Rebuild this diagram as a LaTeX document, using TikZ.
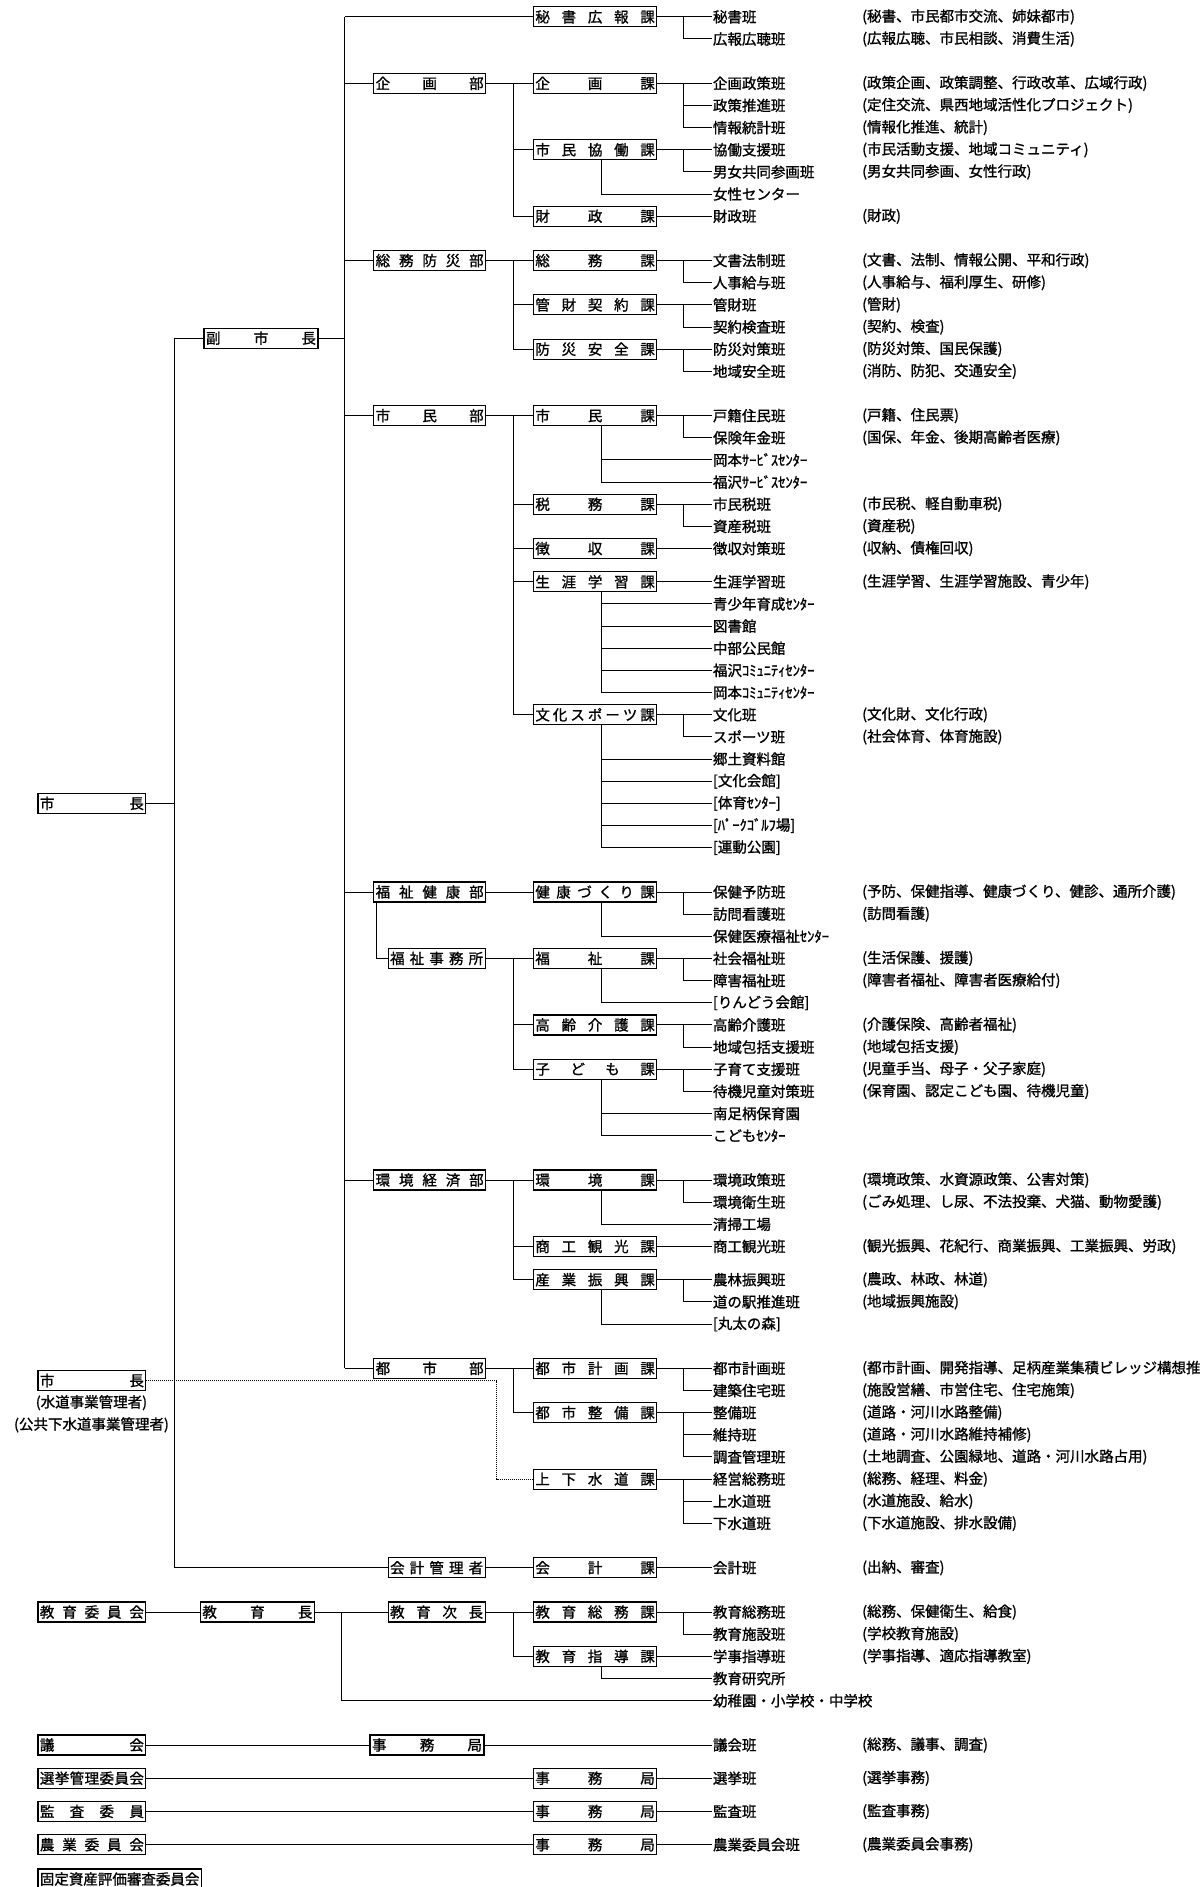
\documentclass[tikz,border=0pt]{standalone}
\usepackage{fontspec}
\setmainfont{Noto Sans CJK JP}[FakeBold=1.2]

\tikzset{
  unitbox/.style={draw, line width=1.2pt, anchor=west, minimum height=20pt,
    inner xsep=2pt, inner ysep=0pt},
  headbox/.style={unitbox, text width=104pt},
  vicebox/.style={unitbox, text width=110pt},
  bubox/.style={unitbox, text width=108pt},
  subbox/.style={unitbox, text width=93pt},
  kabox/.style={unitbox, text width=119.5pt},
  teamtext/.style={anchor=west, inner sep=0pt},
}

% team name plus its duties in brackets
\newcommand{\team}[4]{%
  \node[teamtext] (#1) at (\xt,#2) {#3};
  \node[teamtext] (#1n) at (\xn,#2) {#4};}

\begin{document}
\begin{tikzpicture}[x=1.2036pt, y=-22.158pt, line width=1pt,
  font=\fontsize{14.5pt}{17pt}\selectfont]

  \useasboundingbox (0,-0.76) rectangle (997,84.41);

  \def\xk{442.7}
  \def\xt{592}
  \def\xn{716}

  % x of the vertical bus lines
  \coordinate (busA) at (145.4,0);
  \coordinate (busB) at (286.6,0);
  \coordinate (busH) at (284,0);
  \coordinate (busW) at (412.7,0);
  \coordinate (busC) at (426.5,0);
  \coordinate (busD) at (500,0);
  \coordinate (busE) at (567.7,0);

  % Mayor and deputy
  \node[headbox] (mayor) at (31,35.5) {市\hfill 長};
  \node[vicebox] (deputy) at (169,14.5) {副\hfill 市\hfill 長};

  % Secretary
  \node[kabox] (hisho) at (\xk,0) {秘\hfill 書\hfill 広\hfill 報\hfill 課};
  \team{hisho1}{0}{秘書班}{(秘書、市民都市交流、姉妹都市)}
  \team{hisho2}{1}{広報広聴班}{(広報広聴、市民相談、消費生活)}
  \draw (hisho) -- (hisho1) (hisho1 -| busE) |- (hisho2);

  % Planning
  \node[bubox] (kikakubu) at (310,3) {企\hfill 画\hfill 部};
  \node[kabox] (kikaku) at (\xk,3) {企\hfill 画\hfill 課};
  \node[kabox] (kyodo) at (\xk,6) {市\hfill 民\hfill 協\hfill 働\hfill 課};
  \node[kabox] (zaisei) at (\xk,9) {財\hfill 政\hfill 課};
  \team{kikaku1}{3}{企画政策班}{(政策企画、政策調整、行政改革、広域行政)}
  \team{kikaku2}{4}{政策推進班}{(定住交流、県西地域活性化プロジェクト)}
  \team{kikaku3}{5}{情報統計班}{(情報化推進、統計)}
  \team{kyodo1}{6}{協働支援班}{(市民活動支援、地域コミュニティ)}
  \team{kyodo2}{7}{男女共同参画班}{(男女共同参画、女性行政)}
  \node[teamtext] (josei) at (\xt,8) {女性センター};
  \team{zaisei1}{9}{財政班}{(財政)}
  \draw (kikakubu) -- (kikaku) (kikaku -| busC) |- (zaisei) (busC |- kyodo) -- (kyodo);
  \draw (kikaku) -- (kikaku1) (kikaku1 -| busE) |- (kikaku3) (busE |- kikaku2) -- (kikaku2);
  \draw (kyodo) -- (kyodo1) (kyodo1 -| busE) |- (kyodo2);
  \draw (kyodo.south -| busD) |- (josei);
  \draw (zaisei) -- (zaisei1);

  % General affairs
  \node[bubox] (somubu) at (310,11) {総\hfill 務\hfill 防\hfill 災\hfill 部};
  \node[kabox] (somu) at (\xk,11) {総\hfill 務\hfill 課};
  \node[kabox] (kanzai) at (\xk,13) {管\hfill 財\hfill 契\hfill 約\hfill 課};
  \node[kabox] (bosai) at (\xk,15) {防\hfill 災\hfill 安\hfill 全\hfill 課};
  \team{somu1}{11}{文書法制班}{(文書、法制、情報公開、平和行政)}
  \team{somu2}{12}{人事給与班}{(人事給与、福利厚生、研修)}
  \team{kanzai1}{13}{管財班}{(管財)}
  \team{kanzai2}{14}{契約検査班}{(契約、検査)}
  \team{bosai1}{15}{防災対策班}{(防災対策、国民保護)}
  \team{bosai2}{16}{地域安全班}{(消防、防犯、交通安全)}
  \draw (somubu) -- (somu) (somu -| busC) |- (bosai) (busC |- kanzai) -- (kanzai);
  \draw (somu) -- (somu1) (somu1 -| busE) |- (somu2);
  \draw (kanzai) -- (kanzai1) (kanzai1 -| busE) |- (kanzai2);
  \draw (bosai) -- (bosai1) (bosai1 -| busE) |- (bosai2);

  % Citizens
  \node[bubox] (shiminbu) at (310,18) {市\hfill 民\hfill 部};
  \node[kabox] (shimin) at (\xk,18) {市\hfill 民\hfill 課};
  \node[kabox] (zeimu) at (\xk,22) {税\hfill 務\hfill 課};
  \node[kabox] (choshu) at (\xk,24) {徴\hfill 収\hfill 課};
  \node[kabox] (shogai) at (\xk,25.5) {生\hfill 涯\hfill 学\hfill 習\hfill 課};
  \node[kabox] (bunka) at (\xk,31.5) {文\hfill 化\hfill ス\hfill ポ\hfill ー\hfill ツ\hfill 課};
  \team{shimin1}{18}{戸籍住民班}{(戸籍、住民票)}
  \team{shimin2}{19}{保険年金班}{(国保、年金、後期高齢者医療)}
  \node[teamtext] (okasc) at (\xt,20) {岡本ｻｰﾋﾞｽｾﾝﾀｰ};
  \node[teamtext] (fukusc) at (\xt,21) {福沢ｻｰﾋﾞｽｾﾝﾀｰ};
  \team{zeimu1}{22}{市民税班}{(市民税、軽自動車税)}
  \team{zeimu2}{23}{資産税班}{(資産税)}
  \team{choshu1}{24}{徴収対策班}{(収納、債権回収)}
  \team{shogai1}{25.5}{生涯学習班}{(生涯学習、生涯学習施設、青少年)}
  \node[teamtext] (seishonen) at (\xt,26.5) {青少年育成ｾﾝﾀｰ};
  \node[teamtext] (tosho) at (\xt,27.5) {図書館};
  \node[teamtext] (chubu) at (\xt,28.5) {中部公民館};
  \node[teamtext] (fukucc) at (\xt,29.5) {福沢ｺﾐｭﾆﾃｨｾﾝﾀｰ};
  \node[teamtext] (okacc) at (\xt,30.5) {岡本ｺﾐｭﾆﾃｨｾﾝﾀｰ};
  \team{bunka1}{31.5}{文化班}{(文化財、文化行政)}
  \team{bunka2}{32.5}{スポーツ班}{(社会体育、体育施設)}
  \node[teamtext] (kyodokan) at (\xt,33.5) {郷土資料館};
  \node[teamtext] (bunkakaikan) at (\xt,34.5) {[文化会館]};
  \node[teamtext] (taiiku) at (\xt,35.5) {[体育ｾﾝﾀｰ]};
  \node[teamtext] (golf) at (\xt,36.5) {[ﾊﾟｰｸｺﾞﾙﾌ場]};
  \node[teamtext] (undo) at (\xt,37.5) {[運動公園]};
  \draw (shiminbu) -- (shimin) (shimin -| busC) |- (bunka) (busC |- zeimu) -- (zeimu)
    (busC |- choshu) -- (choshu) (busC |- shogai) -- (shogai);
  \draw (shimin) -- (shimin1) (shimin1 -| busE) |- (shimin2);
  \draw (shimin.south -| busD) |- (fukusc) (busD |- okasc) -- (okasc);
  \draw (zeimu) -- (zeimu1) (zeimu1 -| busE) |- (zeimu2);
  \draw (choshu) -- (choshu1);
  \draw (shogai) -- (shogai1);
  \draw (shogai.south -| busD) |- (okacc) (busD |- seishonen) -- (seishonen)
    (busD |- tosho) -- (tosho) (busD |- chubu) -- (chubu) (busD |- fukucc) -- (fukucc);
  \draw (bunka) -- (bunka1) (bunka1 -| busE) |- (bunka2);
  \draw (bunka.south -| busD) |- (undo) (busD |- kyodokan) -- (kyodokan)
    (busD |- bunkakaikan) -- (bunkakaikan) (busD |- taiiku) -- (taiiku) (busD |- golf) -- (golf);

  % Welfare and health
  \node[bubox] (fukushibu) at (310,39.5) {福\hfill 祉\hfill 健\hfill 康\hfill 部};
  \node[subbox] (jimusho) at (322,42.5) {福\hfill 祉\hfill 事\hfill 務\hfill 所};
  \node[kabox] (kenko) at (\xk,39.5) {健\hfill 康\hfill づ\hfill く\hfill り\hfill 課};
  \node[kabox] (fukushi) at (\xk,42.5) {福\hfill 祉\hfill 課};
  \node[kabox] (korei) at (\xk,45.5) {高\hfill 齢\hfill 介\hfill 護\hfill 課};
  \node[kabox] (kodomo) at (\xk,47.5) {子\hfill ど\hfill も\hfill 課};
  \team{kenko1}{39.5}{保健予防班}{(予防、保健指導、健康づくり、健診、通所介護)}
  \team{kenko2}{40.5}{訪問看護班}{(訪問看護)}
  \node[teamtext] (hokeniryo) at (\xt,41.5) {保健医療福祉ｾﾝﾀｰ};
  \team{fukushi1}{42.5}{社会福祉班}{(生活保護、援護)}
  \team{fukushi2}{43.5}{障害福祉班}{(障害者福祉、障害者医療給付)}
  \node[teamtext] (rindo) at (\xt,44.5) {[りんどう会館]};
  \team{korei1}{45.5}{高齢介護班}{(介護保険、高齢者福祉)}
  \team{korei2}{46.5}{地域包括支援班}{(地域包括支援)}
  \team{kodomo1}{47.5}{子育て支援班}{(児童手当、母子・父子家庭)}
  \team{kodomo2}{48.5}{待機児童対策班}{(保育園、認定こども園、待機児童)}
  \node[teamtext] (hoikuen) at (\xt,49.5) {南足柄保育園};
  \node[teamtext] (kodomoc) at (\xt,50.5) {こどもｾﾝﾀｰ};
  \draw (fukushibu) -- (kenko);
  \draw ([xshift=3pt]fukushibu.south west) |- (jimusho);
  \draw (jimusho) -- (fukushi) (fukushi -| busC) |- (kodomo) (busC |- korei) -- (korei);
  \draw (kenko) -- (kenko1) (kenko1 -| busE) |- (kenko2);
  \draw (kenko.south -| busD) |- (hokeniryo);
  \draw (fukushi) -- (fukushi1) (fukushi1 -| busE) |- (fukushi2);
  \draw (fukushi.south -| busD) |- (rindo);
  \draw (korei) -- (korei1) (korei1 -| busE) |- (korei2);
  \draw (kodomo) -- (kodomo1) (kodomo1 -| busE) |- (kodomo2);
  \draw (kodomo.south -| busD) |- (kodomoc) (busD |- hoikuen) -- (hoikuen);

  % Environment and economy
  \node[bubox] (kankyobu) at (310,52.5) {環\hfill 境\hfill 経\hfill 済\hfill 部};
  \node[kabox] (kankyo) at (\xk,52.5) {環\hfill 境\hfill 課};
  \node[kabox] (shoko) at (\xk,55.5) {商\hfill 工\hfill 観\hfill 光\hfill 課};
  \node[kabox] (sangyo) at (\xk,57) {産\hfill 業\hfill 振\hfill 興\hfill 課};
  \team{kankyo1}{52.5}{環境政策班}{(環境政策、水資源政策、公害対策)}
  \team{kankyo2}{53.5}{環境衛生班}{(ごみ処理、し尿、不法投棄、犬猫、動物愛護)}
  \node[teamtext] (seiso) at (\xt,54.5) {清掃工場};
  \team{shoko1}{55.5}{商工観光班}{(観光振興、花紀行、商業振興、工業振興、労政)}
  \team{sangyo1}{57}{農林振興班}{(農政、林政、林道)}
  \team{sangyo2}{58}{道の駅推進班}{(地域振興施設)}
  \node[teamtext] (maruta) at (\xt,59) {[丸太の森]};
  \draw (kankyobu) -- (kankyo) (kankyo -| busC) |- (sangyo) (busC |- shoko) -- (shoko);
  \draw (kankyo) -- (kankyo1) (kankyo1 -| busE) |- (kankyo2);
  \draw (kankyo.south -| busD) |- (seiso);
  \draw (shoko) -- (shoko1);
  \draw (sangyo) -- (sangyo1) (sangyo1 -| busE) |- (sangyo2);
  \draw (sangyo.south -| busD) |- (maruta);

  % City planning
  \node[bubox] (toshibu) at (310,61) {都\hfill 市\hfill 部};
  \node[kabox] (keikaku) at (\xk,61) {都\hfill 市\hfill 計\hfill 画\hfill 課};
  \node[kabox] (seibi) at (\xk,63) {都\hfill 市\hfill 整\hfill 備\hfill 課};
  \node[kabox] (josui) at (\xk,66) {上\hfill 下\hfill 水\hfill 道\hfill 課};
  \team{keikaku1}{61}{都市計画班}{(都市計画、開発指導、足柄産業集積ビレッジ構想推}
  \team{keikaku2}{62}{建築住宅班}{(施設営繕、市営住宅、住宅施策)}
  \team{seibi1}{63}{整備班}{(道路・河川水路整備)}
  \team{seibi2}{64}{維持班}{(道路・河川水路維持補修)}
  \team{seibi3}{65}{調査管理班}{(土地調査、公園緑地、道路・河川水路占用)}
  \team{josui1}{66}{経営総務班}{(総務、経理、料金)}
  \team{josui2}{67}{上水道班}{(水道施設、給水)}
  \team{josui3}{68}{下水道班}{(下水道施設、排水設備)}
  \draw (toshibu) -- (keikaku) (keikaku -| busC) |- (seibi);
  \draw (keikaku) -- (keikaku1) (keikaku1 -| busE) |- (keikaku2);
  \draw (seibi) -- (seibi1) (seibi1 -| busE) |- (seibi3) (busE |- seibi2) -- (seibi2);
  \draw (josui) -- (josui1) (josui1 -| busE) |- (josui3) (busE |- josui2) -- (josui2);

  % Mayor as water manager
  \node[headbox] (mayorw) at (31,61.55) {市\hfill 長};
  \node (mayorw1) at (76,62.55) {(水道事業管理者)};
  \node (mayorw2) at (76,63.55) {(公共下水道事業管理者)};
  \draw[densely dotted] (mayorw) -| (busW |- josui) -- (josui);

  % Accounting
  \node[subbox] (kaikeisha) at (322,70) {会\hfill 計\hfill 管\hfill 理\hfill 者};
  \node[kabox] (kaikei) at (\xk,70) {会\hfill 計\hfill 課};
  \team{kaikei1}{70}{会計班}{(出納、審査)}
  \draw (kaikeisha) -- (kaikei) -- (kaikei1);

  % Mayor, deputy and the department bus
  \draw (mayor) -- (mayor -| busA);
  \draw (deputy) -| (busA |- kaikeisha) -- (kaikeisha);
  \draw (deputy) -- (deputy -| busB);
  \draw (busB |- hisho) -- (busB |- toshibu);
  \draw (busB |- hisho) -- (hisho);
  \draw (busB |- kikakubu) -- (kikakubu);
  \draw (busB |- somubu) -- (somubu);
  \draw (busB |- shiminbu) -- (shiminbu);
  \draw (busB |- fukushibu) -- (fukushibu);
  \draw (busB |- kankyobu) -- (kankyobu);
  \draw (busB |- toshibu) -- (toshibu);

  % Board of education
  \node[headbox] (iinkai) at (31,72) {教\hfill 育\hfill 委\hfill 員\hfill 会};
  \node[vicebox] (kyoikucho) at (166,72) {教\hfill 育\hfill 長};
  \node[subbox] (jicho) at (322,72) {教\hfill 育\hfill 次\hfill 長};
  \node[kabox] (kyosomu) at (\xk,72) {教\hfill 育\hfill 総\hfill 務\hfill 課};
  \node[kabox] (kyoshido) at (\xk,74) {教\hfill 育\hfill 指\hfill 導\hfill 課};
  \team{kyosomu1}{72}{教育総務班}{(総務、保健衛生、給食)}
  \team{kyosomu2}{73}{教育施設班}{(学校教育施設)}
  \team{kyoshido1}{74}{学事指導班}{(学事指導、適応指導教室)}
  \node[teamtext] (kenkyujo) at (\xt,75) {教育研究所};
  \node[teamtext] (gakko) at (\xt,76) {幼稚園・小学校・中学校};
  \draw (iinkai) -- (kyoikucho) -- (jicho) -- (kyosomu);
  \draw (busH |- kyoikucho) |- (gakko);
  \draw (kyosomu -| busC) |- (kyoshido);
  \draw (kyosomu) -- (kyosomu1) (kyosomu1 -| busE) |- (kyosomu2);
  \draw (kyoshido) -- (kyoshido1);
  \draw (kyoshido.south -| busD) |- (kenkyujo);

  % Assembly and committees
  \node[headbox] (gikai) at (31,78) {議\hfill 会};
  \node[vicebox] (gikaijim) at (307,78) {事\hfill 務\hfill 局};
  \team{gikai1}{78}{議会班}{(総務、議事、調査)}
  \draw (gikai) -- (gikaijim) -- (gikai1);

  \node[headbox] (senkan) at (31,79.5) {選\hfill 挙\hfill 管\hfill 理\hfill 委\hfill 員\hfill 会};
  \node[kabox] (senjim) at (\xk,79.5) {事\hfill 務\hfill 局};
  \team{senkan1}{79.5}{選挙班}{(選挙事務)}
  \draw (senkan) -- (senjim) -- (senkan1);

  \node[headbox] (kansa) at (31,81) {監\hfill 査\hfill 委\hfill 員};
  \node[kabox] (kansajim) at (\xk,81) {事\hfill 務\hfill 局};
  \team{kansa1}{81}{監査班}{(監査事務)}
  \draw (kansa) -- (kansajim) -- (kansa1);

  \node[headbox] (nogyo) at (31,82.5) {農\hfill 業\hfill 委\hfill 員\hfill 会};
  \node[kabox] (nogyojim) at (\xk,82.5) {事\hfill 務\hfill 局};
  \team{nogyo1}{82.5}{農業委員会班}{(農業委員会事務)}
  \draw (nogyo) -- (nogyojim) -- (nogyo1);

  \node[unitbox] (kotei) at (31,84.05) {固定資産評価審査委員会};

\end{tikzpicture}
\end{document}
